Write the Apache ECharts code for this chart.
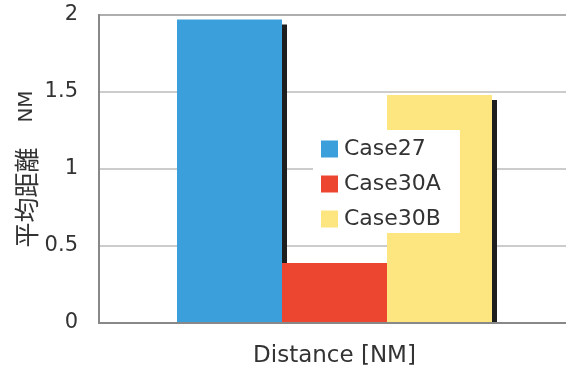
<!DOCTYPE html>
<html>
<head>
<meta charset="utf-8">
<script src="https://cdn.jsdelivr.net/npm/echarts@6/dist/echarts.min.js"></script>
<style>html,body{margin:0;padding:0;background:#fff;}#c{width:566px;height:372px;}</style>
</head>
<body>
<div id="c"></div>
<script>
var categories = [''];
var seriesNames = ['Case27', 'Case30A', 'Case30B'];
var case27 = [1.97];
var case30A = [0.39];
var case30B = [1.48];
var yTicks = [0, 0.5, 1, 1.5, 2];

var colors = ['#3a9fda', '#ec4530', '#fde680'];
var FONT = '"DejaVu Sans", "Noto Sans CJK JP", sans-serif';
var chart = echarts.init(document.getElementById('c'), null, {renderer: 'canvas'});

function mk(name, data, color) {
  return {
    name: name, type: 'bar', data: data, barWidth: 105, barGap: '0%',
    itemStyle: {color: color, shadowColor: '#1e1e1e', shadowBlur: 0, shadowOffsetX: 5, shadowOffsetY: 5},
    emphasis: {disabled: true}
  };
}

chart.setOption({
  animation: false,
  backgroundColor: '#fff',
  grid: {left: 99, top: 15, right: -4, bottom: 49, show: true, borderColor: '#888', borderWidth: 2,
         containLabel: false, outerBoundsMode: 'none'},
  legend: {
    orient: 'vertical', left: 313, top: 130,
    backgroundColor: '#fff', padding: [8, 19, 3, 8],
    itemWidth: 17, itemHeight: 17, itemGap: 13, icon: 'rect',
    itemStyle: {shadowColor: 'rgba(0,0,0,0)', shadowOffsetX: 0, shadowOffsetY: 0},
    textStyle: {fontFamily: FONT, fontSize: 22, color: '#333', padding: [0, 0, 0, 1]},
    data: seriesNames
  },
  xAxis: {
    type: 'category', data: categories, z: 5,
    axisLine: {lineStyle: {color: '#888', width: 2}},
    axisTick: {show: false}, axisLabel: {show: false},
    name: 'Distance [NM]', nameLocation: 'middle', nameGap: 22,
    nameTextStyle: {fontFamily: FONT, fontSize: 23, color: '#333'}
  },
  yAxis: {
    type: 'value', min: yTicks[0], max: yTicks[yTicks.length - 1], interval: 0.5,
    axisLine: {show: true, lineStyle: {color: '#888', width: 2}},
    axisTick: {show: false},
    axisLabel: {fontFamily: FONT, fontSize: 21, color: '#333', margin: 21},
    splitLine: {lineStyle: {color: '#bbb', width: 1.5}},
    name: '{c|平均距離}{c|\u3000}{l|NM}', nameLocation: 'middle', nameGap: 60, nameRotate: 90,
    nameMoveOverlap: false,
    nameTextStyle: {color: '#333', rich: {
      c: {fontFamily: '"Noto Sans CJK JP", sans-serif', fontSize: 25, color: '#333'},
      l: {fontFamily: FONT, fontSize: 20, color: '#333'}
    }}
  },
  graphic: [{type: 'rect', z: 4, silent: true, shape: {x: 99, y: 322, width: 480, height: 12}, style: {fill: '#fff'}}],
  series: [mk(seriesNames[0], case27, colors[0]), mk(seriesNames[1], case30A, colors[1]), mk(seriesNames[2], case30B, colors[2])]
});
</script>
</body>
</html>
